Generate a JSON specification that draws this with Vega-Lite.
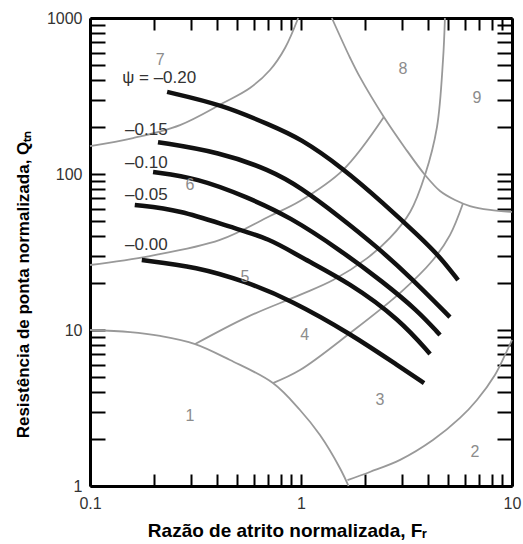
{
  "$schema": "https://vega.github.io/schema/vega-lite/v6.json",
  "width": 422,
  "height": 468,
  "autosize": {"type": "none"},
  "padding": {"left": 90, "top": 18, "right": 11, "bottom": 58},
  "background": "white",
  "config": {"view": {"stroke": null}, "font": "Liberation Sans", "axis": {"grid": false}},
  "datasets": {
    "zones": [
      {"s": "G1", "o": 1, "x": 0.1, "y": 10},
      {"s": "G1", "o": 2, "x": 0.155, "y": 9.7},
      {"s": "G1", "o": 3, "x": 0.215, "y": 9.16},
      {"s": "G1", "o": 4, "x": 0.315, "y": 8.13},
      {"s": "G1", "o": 5, "x": 0.461, "y": 6.42},
      {"s": "G1", "o": 6, "x": 0.736, "y": 4.57},
      {"s": "G1", "o": 7, "x": 0.989, "y": 3.07},
      {"s": "G1", "o": 8, "x": 1.23, "y": 2.12},
      {"s": "G1", "o": 9, "x": 1.53, "y": 1.3},
      {"s": "G1", "o": 10, "x": 1.68, "y": 1},
      {"s": "G2", "o": 1, "x": 1.66, "y": 1.09},
      {"s": "G2", "o": 2, "x": 2.12, "y": 1.23},
      {"s": "G2", "o": 3, "x": 2.95, "y": 1.47},
      {"s": "G2", "o": 4, "x": 4.22, "y": 1.97},
      {"s": "G2", "o": 5, "x": 5.67, "y": 2.73},
      {"s": "G2", "o": 6, "x": 6.82, "y": 3.56},
      {"s": "G2", "o": 7, "x": 8.3, "y": 5.15},
      {"s": "G2", "o": 8, "x": 9.27, "y": 6.92},
      {"s": "G2", "o": 9, "x": 10, "y": 8.63},
      {"s": "G3", "o": 1, "x": 0.315, "y": 8.13},
      {"s": "G3", "o": 2, "x": 0.555, "y": 12.1},
      {"s": "G3", "o": 3, "x": 0.989, "y": 16.8},
      {"s": "G3", "o": 4, "x": 1.42, "y": 20.9},
      {"s": "G3", "o": 5, "x": 2.06, "y": 28.9},
      {"s": "G3", "o": 6, "x": 2.64, "y": 38.9},
      {"s": "G3", "o": 7, "x": 3.29, "y": 57.1},
      {"s": "G3", "o": 8, "x": 3.87, "y": 98.6},
      {"s": "G3", "o": 9, "x": 4.41, "y": 200},
      {"s": "G3", "o": 10, "x": 4.71, "y": 538},
      {"s": "G3", "o": 11, "x": 4.81, "y": 1000},
      {"s": "G4", "o": 1, "x": 0.736, "y": 4.57},
      {"s": "G4", "o": 2, "x": 0.989, "y": 5.54},
      {"s": "G4", "o": 3, "x": 1.71, "y": 9.57},
      {"s": "G4", "o": 4, "x": 2.95, "y": 17.3},
      {"s": "G4", "o": 5, "x": 4.22, "y": 28.1},
      {"s": "G4", "o": 6, "x": 5.08, "y": 40.6},
      {"s": "G4", "o": 7, "x": 5.86, "y": 65.0},
      {"s": "G5", "o": 1, "x": 0.1, "y": 26.1},
      {"s": "G5", "o": 2, "x": 0.192, "y": 29.8},
      {"s": "G5", "o": 3, "x": 0.413, "y": 37.8},
      {"s": "G5", "o": 4, "x": 0.713, "y": 53.8},
      {"s": "G5", "o": 5, "x": 0.989, "y": 67.1},
      {"s": "G5", "o": 6, "x": 1.58, "y": 106},
      {"s": "G5", "o": 7, "x": 2.47, "y": 232},
      {"s": "G6", "o": 1, "x": 1.4, "y": 1000},
      {"s": "G6", "o": 2, "x": 1.71, "y": 554},
      {"s": "G6", "o": 3, "x": 1.9, "y": 419},
      {"s": "G6", "o": 4, "x": 2.47, "y": 232},
      {"s": "G6", "o": 5, "x": 3.11, "y": 147},
      {"s": "G6", "o": 6, "x": 3.87, "y": 98.6},
      {"s": "G6", "o": 7, "x": 4.56, "y": 77.8},
      {"s": "G6", "o": 8, "x": 5.37, "y": 68.1},
      {"s": "G6", "o": 9, "x": 6.32, "y": 62.3},
      {"s": "G6", "o": 10, "x": 7.87, "y": 58.8},
      {"s": "G6", "o": 11, "x": 10, "y": 57.1},
      {"s": "G7", "o": 1, "x": 0.1, "y": 151},
      {"s": "G7", "o": 2, "x": 0.16, "y": 170},
      {"s": "G7", "o": 3, "x": 0.267, "y": 206},
      {"s": "G7", "o": 4, "x": 0.427, "y": 285},
      {"s": "G7", "o": 5, "x": 0.573, "y": 356},
      {"s": "G7", "o": 6, "x": 0.713, "y": 464},
      {"s": "G7", "o": 7, "x": 0.84, "y": 642},
      {"s": "G7", "o": 8, "x": 0.97, "y": 1000}
    ],
    "psi": [
      {"s": "-0.20", "o": 1, "x": 0.232, "y": 336},
      {"s": "-0.20", "o": 2, "x": 0.427, "y": 277},
      {"s": "-0.20", "o": 3, "x": 0.713, "y": 206},
      {"s": "-0.20", "o": 4, "x": 0.989, "y": 170},
      {"s": "-0.20", "o": 5, "x": 1.58, "y": 109},
      {"s": "-0.20", "o": 6, "x": 2.45, "y": 65.2},
      {"s": "-0.20", "o": 7, "x": 3.66, "y": 39.5},
      {"s": "-0.20", "o": 8, "x": 4.56, "y": 29.4},
      {"s": "-0.20", "o": 9, "x": 5.55, "y": 20.9},
      {"s": "-0.15", "o": 1, "x": 0.21, "y": 160},
      {"s": "-0.15", "o": 2, "x": 0.413, "y": 138},
      {"s": "-0.15", "o": 3, "x": 0.713, "y": 106},
      {"s": "-0.15", "o": 4, "x": 0.989, "y": 82.6},
      {"s": "-0.15", "o": 5, "x": 1.53, "y": 53},
      {"s": "-0.15", "o": 6, "x": 2.29, "y": 34.1},
      {"s": "-0.15", "o": 7, "x": 3.29, "y": 21.9},
      {"s": "-0.15", "o": 8, "x": 5.08, "y": 12.1},
      {"s": "-0.10", "o": 1, "x": 0.199, "y": 103},
      {"s": "-0.10", "o": 2, "x": 0.321, "y": 94.3},
      {"s": "-0.10", "o": 3, "x": 0.555, "y": 71.2},
      {"s": "-0.10", "o": 4, "x": 0.887, "y": 53},
      {"s": "-0.10", "o": 5, "x": 1.53, "y": 32.6},
      {"s": "-0.10", "o": 6, "x": 2.45, "y": 20.3},
      {"s": "-0.10", "o": 7, "x": 3.55, "y": 13.4},
      {"s": "-0.10", "o": 8, "x": 4.56, "y": 9.29},
      {"s": "-0.05", "o": 1, "x": 0.163, "y": 63.3},
      {"s": "-0.05", "o": 2, "x": 0.267, "y": 58.8},
      {"s": "-0.05", "o": 3, "x": 0.461, "y": 45.7},
      {"s": "-0.05", "o": 4, "x": 0.713, "y": 38.5},
      {"s": "-0.05", "o": 5, "x": 0.989, "y": 29.4},
      {"s": "-0.05", "o": 6, "x": 1.71, "y": 20},
      {"s": "-0.05", "o": 7, "x": 2.95, "y": 11.6},
      {"s": "-0.05", "o": 8, "x": 4.09, "y": 7.02},
      {"s": "0.00", "o": 1, "x": 0.176, "y": 28.1},
      {"s": "0.00", "o": 2, "x": 0.321, "y": 25.4},
      {"s": "0.00", "o": 3, "x": 0.555, "y": 20.3},
      {"s": "0.00", "o": 4, "x": 0.887, "y": 15.6},
      {"s": "0.00", "o": 5, "x": 1.71, "y": 9.5},
      {"s": "0.00", "o": 6, "x": 2.95, "y": 5.79},
      {"s": "0.00", "o": 7, "x": 3.83, "y": 4.57}
    ],
    "zoneLabels": [
      {"t": "1", "x": 0.298, "y": 2.81},
      {"t": "2", "x": 6.68, "y": 1.65},
      {"t": "3", "x": 2.37, "y": 3.56},
      {"t": "4", "x": 1.04, "y": 9.29},
      {"t": "5", "x": 0.543, "y": 21.9},
      {"t": "6", "x": 0.298, "y": 85},
      {"t": "7", "x": 0.215, "y": 538},
      {"t": "8", "x": 3.04, "y": 471},
      {"t": "9", "x": 6.82, "y": 307}
    ],
    "psiLabels": [
      {"t": "ψ = –0.20", "x": 0.142, "y": 412},
      {"t": "–0.15", "x": 0.1466, "y": 191},
      {"t": "–0.10", "x": 0.1466, "y": 118},
      {"t": "–0.05", "x": 0.1466, "y": 73.3},
      {"t": "–0.00", "x": 0.1466, "y": 35.1}
    ]
  },
  "resolve": {"scale": {"x": "shared", "y": "shared"}, "axis": {"x": "independent", "y": "independent"}},
  "layer": [
    {
      "data": {"name": "zones"},
      "mark": {"type": "line", "stroke": "#999999", "strokeWidth": 1.8, "interpolate": "catmull-rom"},
      "encoding": {
        "x": {"field": "x", "type": "quantitative", "scale": {"type": "log", "domain": [0.1, 10]},
          "axis": {"orient": "bottom", "values": [0.1,0.2,0.3,0.4,0.5,0.6,0.7,0.8,0.9,1,2,3,4,5,6,7,8,9,10],
            "labelExpr": "datum.value == 0.1 ? '0.1' : datum.value == 1 ? '1' : datum.value == 10 ? '10' : ''",
            "labelFlush": false, "labelOverlap": false, "labelFont": "Liberation Sans", "labelFontSize": 16, "labelColor": "#333333", "labelPadding": 21,
            "tickSize": -12, "tickColor": "black", "tickWidth": 2,
            "domainColor": "black", "domainWidth": 3,
            "title": "Razão de atrito normalizada, Fᵣ", "titleFont": "Liberation Sans", "titleFontSize": 19, "titleFontWeight": "bold", "titleColor": "black",
            "titleX": 197, "titleY": 44, "titleBaseline": "middle", "titleAlign": "center", "titleAnchor": "middle"}},
        "y": {"field": "y", "type": "quantitative", "scale": {"type": "log", "domain": [1, 1000]},
          "axis": {"orient": "left", "values": [1,2,3,4,5,6,7,8,9,10,20,30,40,50,60,70,80,90,100,200,300,400,500,600,700,800,900,1000],
            "labelExpr": "datum.value == 1 ? '1' : datum.value == 10 ? '10' : datum.value == 100 ? '100' : datum.value == 1000 ? '1000' : ''",
            "labelFlush": false, "labelOverlap": false, "labelFont": "Liberation Sans", "labelFontSize": 16, "labelColor": "#333333", "labelPadding": 23,
            "tickSize": -15, "tickColor": "black", "tickWidth": 2,
            "domainColor": "black", "domainWidth": 3,
            "title": "Resistência de ponta normalizada, Qₜₙ", "titleFont": "Liberation Sans", "titleFontSize": 17, "titleFontWeight": "bold", "titleColor": "black",
            "titleX": -67, "titleY": 266, "titleBaseline": "middle", "titleAngle": -90, "titleAlign": "center", "titleAnchor": "middle"}},
        "detail": {"field": "s"},
        "order": {"field": "o"}
      }
    },
    {
      "data": {"name": "psi"},
      "mark": {"type": "line", "stroke": "#111111", "strokeWidth": 4.5, "interpolate": "basis"},
      "encoding": {
        "x": {"field": "x", "type": "quantitative", "scale": {"type": "log", "domain": [0.1, 10]},
          "axis": {"orient": "top", "values": [0.1,0.2,0.3,0.4,0.5,0.6,0.7,0.8,0.9,1,2,3,4,5,6,7,8,9,10],
            "labels": false, "title": null, "tickSize": -12, "tickColor": "black", "tickWidth": 2, "domainColor": "black", "domainWidth": 3}},
        "y": {"field": "y", "type": "quantitative", "scale": {"type": "log", "domain": [1, 1000]},
          "axis": {"orient": "right", "values": [1,2,3,4,5,6,7,8,9,10,20,30,40,50,60,70,80,90,100,200,300,400,500,600,700,800,900,1000],
            "labels": false, "title": null, "tickSize": -15, "tickColor": "black", "tickWidth": 2, "domainColor": "black", "domainWidth": 3}},
        "detail": {"field": "s"},
        "order": {"field": "o"}
      }
    },
    {
      "data": {"name": "zoneLabels"},
      "mark": {"type": "text", "font": "Liberation Sans", "fontSize": 16, "color": "#8c8c8c", "align": "center", "baseline": "middle"},
      "encoding": {
        "x": {"field": "x", "type": "quantitative", "axis": null},
        "y": {"field": "y", "type": "quantitative", "axis": null},
        "text": {"field": "t"}
      }
    },
    {
      "data": {"name": "psiLabels"},
      "mark": {"type": "text", "font": "Liberation Sans", "fontSize": 17, "color": "#333333", "align": "left", "baseline": "middle"},
      "encoding": {
        "x": {"field": "x", "type": "quantitative", "axis": null},
        "y": {"field": "y", "type": "quantitative", "axis": null},
        "text": {"field": "t"}
      }
    }
  ]
}
